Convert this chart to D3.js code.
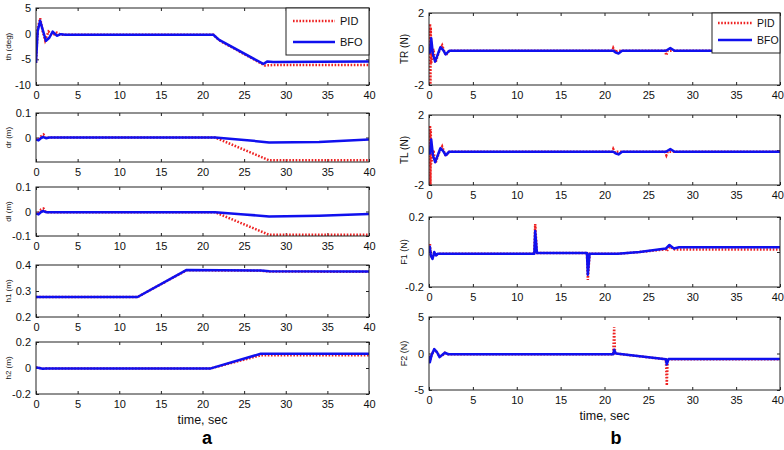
<!DOCTYPE html>
<html><head><meta charset="utf-8">
<script src="https://cdn.jsdelivr.net/npm/d3@7"></script>
<style>body{margin:0;background:#fff}svg{display:block}text{font-family:"Liberation Sans",Arial,sans-serif}</style>
</head><body>
<script>
// ---------- data ----------
const xTicks = [0,5,10,15,20,25,30,35,40];
const seriesNames = ["PID","BFO"];

// th (deg)
const thBT   = [0,0.2,0.5,0.8,1.2,1.6,2.0,2.5,3.0,3.5,21.3,22,27.3,27.8,28.5,40];
const thBFO  = [-5.7,0.5,2.5,0.8,-1.4,-0.8,0.4,-0.4,-0.1,-0.2,-0.2,-1.2,-5.9,-5.4,-5.5,-5.4];
const thPT   = [0,0.2,0.5,0.8,1.1,1.5,2.0,2.5,3.0,21.3,22,27.5,28.5,40];
const thPID  = [-5.7,1.0,3.0,0.5,-1.3,0.4,-0.3,0.2,-0.2,-0.2,-1.3,-6.2,-6.1,-6.1];

// dr (m)
const drBT   = [0,0.3,0.6,0.9,1.2,1.6,21.5,25,28,34,40];
const drBFO  = [-0.008,-0.012,-0.002,0.002,-0.003,0,0,-0.01,-0.02,-0.018,-0.008];
const drPT   = [0,0.3,0.6,0.9,1.2,1.6,21.5,28,40];
const drPID  = [-0.008,-0.01,0.005,0.012,-0.003,0,0,-0.093,-0.093];

// dl (m)
const dlBT   = [0,0.3,0.6,0.9,1.2,1.6,21.5,25,28,34,40];
const dlBFO  = [-0.008,-0.012,-0.002,0.002,-0.003,-0.003,-0.003,-0.012,-0.02,-0.017,-0.01];
const dlPT   = [0,0.3,0.6,0.9,1.2,1.6,21.5,28,40];
const dlPID  = [-0.008,-0.01,0.008,0.012,-0.003,-0.003,-0.003,-0.095,-0.095];

// h1 (m)
const h1BT   = [0,12.2,18.1,27,28,40];
const h1BFO  = [0.277,0.277,0.381,0.379,0.376,0.375];
const h1PT   = [0,12.2,18.1,27,28,40];
const h1PID  = [0.277,0.277,0.38,0.378,0.375,0.374];

// h2 (m)
const h2BT   = [0,0.4,0.8,1.2,21,27,40];
const h2BFO  = [0.003,0.0,-0.006,-0.003,-0.003,0.11,0.11];
const h2PT   = [0,0.4,0.8,1.2,21,27,40];
const h2PID  = [0.003,0.0,-0.006,-0.003,-0.003,0.098,0.098];

// TR (N)
const trBT   = [0,0.1,0.25,0.45,0.7,1.0,1.3,1.6,1.9,2.3,2.8,21.0,21.3,21.6,22.0,27.0,27.5,28.0,40];
const trBFO  = [0,-0.2,0.6,-0.3,-0.7,-0.3,0.1,-0.05,-0.3,-0.1,-0.1,-0.1,-0.2,-0.25,-0.1,-0.1,0.05,-0.1,-0.1];
const trPT   = [0,0.12,0.16,0.2,0.24,0.5,0.75,1.1,1.5,1.9,2.3,2.8,20.9,21.0,21.2,21.5,26.9,27.05,27.2,40];
const trPID  = [0,1.4,-2.5,1.2,-0.8,0,-0.75,-0.2,0.2,-0.35,-0.1,-0.1,-0.1,0.05,-0.15,-0.1,-0.1,-0.35,-0.1,-0.1];

// TL (N)
const tlBT   = [0,0.1,0.25,0.45,0.7,1.0,1.3,1.6,1.9,2.3,2.8,21.0,21.3,21.6,22.0,27.0,27.5,28.0,40];
const tlBFO  = [0,-0.2,0.6,-0.3,-0.7,-0.3,0.1,-0.05,-0.3,-0.1,-0.1,-0.1,-0.2,-0.25,-0.1,-0.1,0.05,-0.1,-0.1];
const tlPT   = [0,0.12,0.16,0.2,0.24,0.5,0.75,1.1,1.5,1.9,2.3,2.8,20.9,21.0,21.2,21.5,26.9,27.05,27.2,40];
const tlPID  = [0,1.4,-2.5,1.2,-0.8,0,-0.75,-0.2,0.2,-0.35,-0.1,-0.1,-0.1,0.05,-0.15,-0.1,-0.1,-0.3,-0.1,-0.1];

// F1 (N)
const f1BT   = [0,0.1,0.2,0.4,0.6,0.8,1.0,12.0,12.1,12.3,18.0,18.1,18.3,21.5,24,27.0,27.4,27.9,28.5,40];
const f1BFO  = [0,0.03,-0.02,-0.04,0,-0.02,-0.01,-0.01,0.12,-0.005,-0.005,-0.13,-0.01,-0.01,0.0,0.02,0.04,0.02,0.027,0.027];
const f1PT   = [0,0.1,0.2,0.4,0.6,0.8,1.0,12.0,12.1,12.3,18.0,18.1,18.3,21.5,24,27.0,27.1,27.4,28,40];
const f1PID  = [0,0.05,-0.02,-0.035,0,-0.02,-0.01,-0.01,0.16,-0.005,-0.005,-0.16,-0.01,-0.01,0.0,0.015,0.005,0.03,0.015,0.015];

// F2 (N)
const f2BT   = [0,0.1,0.3,0.6,0.9,1.2,1.5,1.8,2.2,21.0,21.1,21.3,27.0,27.1,27.3,40];
const f2BFO  = [-0.3,-1.2,-0.2,0.6,0.2,-0.5,-0.2,0.1,-0.1,-0.1,0.5,0.0,-0.8,-1.5,-0.75,-0.75];
const f2PT   = [0,0.1,0.3,0.6,0.9,1.2,1.5,1.8,2.2,21.0,21.1,21.2,27.0,27.1,27.2,40];
const f2PID  = [-0.3,-1.0,-0.2,0.5,0.2,-0.4,-0.3,0.1,-0.1,-0.1,3.6,0.0,-0.8,-4.4,-0.8,-0.8];

// ---------- drawing ----------
const W=784,H=450;
const svg=d3.select("body").append("svg").attr("width",W).attr("height",H);
const RED="#ee2222", BLUE="#1010ee";

const panels = [
 {id:"th", box:[36,369,8,85],  yd:[-10,5],   yt:[-10,-5,0,5], lab:"th (deg)", lx:8, lfs:8,  B:[thBT,thBFO], P:[thPT,thPID]},
 {id:"dr", box:[36,369,113,162], yd:[-0.1,0.1], yt:[0,0.1], lab:"dr (m)", lx:8, lfs:8, B:[drBT,drBFO], P:[drPT,drPID]},
 {id:"dl", box:[36,369,187,236], yd:[-0.1,0.1], yt:[-0.1,0,0.1], lab:"dl (m)", lx:8, lfs:8, B:[dlBT,dlBFO], P:[dlPT,dlPID]},
 {id:"h1", box:[36,369,265,317], yd:[0.2,0.4], yt:[0.2,0.3,0.4], lab:"h1 (m)", lx:8, lfs:8, B:[h1BT,h1BFO], P:[h1PT,h1PID]},
 {id:"h2", box:[36,369,342,394], yd:[-0.2,0.2], yt:[-0.2,0,0.2], lab:"h2 (m)", lx:8, lfs:8, B:[h2BT,h2BFO], P:[h2PT,h2PID], xlab:true},
 {id:"tr", box:[429,780,13,85], yd:[-2,2], yt:[-2,0,2], lab:"TR (N)", lx:404, lfs:10, B:[trBT,trBFO], P:[trPT,trPID], right:true},
 {id:"tl", box:[429,780,115,185], yd:[-2,2], yt:[-2,0,2], lab:"TL (N)", lx:404, lfs:10, B:[tlBT,tlBFO], P:[tlPT,tlPID], right:true},
 {id:"f1", box:[429,780,217,287], yd:[-0.2,0.2], yt:[-0.2,0,0.2], lab:"F1 (N)", lx:404, lfs:9, B:[f1BT,f1BFO], P:[f1PT,f1PID], right:true},
 {id:"f2", box:[429,780,317,390], yd:[-5,5], yt:[-5,0,5], lab:"F2 (N)", lx:404, lfs:9, B:[f2BT,f2BFO], P:[f2PT,f2PID], xlab:true, right:true}
];

const fmt = d => (Math.abs(d)<1e-9 ? "0" : String(+d.toFixed(2)));

panels.forEach(p=>{
  const [x0,x1,y0,y1]=p.box;
  const x=d3.scaleLinear().domain([0,40]).range([x0,x1]);
  const y=d3.scaleLinear().domain(p.yd).range([y1,y0]);
  const g=svg.append("g");
  g.append("clipPath").attr("id","c"+p.id).append("rect")
    .attr("x",x0).attr("y",y0).attr("width",x1-x0).attr("height",y1-y0);
  // axes
  const axB=g.append("g").attr("transform",`translate(0,${y1})`)
    .call(d3.axisBottom(x).tickValues(xTicks).tickSizeInner(-3).tickSizeOuter(0).tickPadding(6).tickFormat(d3.format("d")));
  const axT=g.append("g").attr("transform",`translate(0,${y0})`)
    .call(d3.axisTop(x).tickValues(xTicks).tickSizeInner(-3).tickSizeOuter(0).tickFormat(""));
  const axL=g.append("g").attr("transform",`translate(${x0},0)`)
    .call(d3.axisLeft(y).tickValues(p.yt).tickSizeInner(-3).tickSizeOuter(0).tickPadding(5).tickFormat(fmt));
  const axR=g.append("g").attr("transform",`translate(${x1},0)`)
    .call(d3.axisRight(y).tickValues(p.yt).tickSizeInner(-3).tickSizeOuter(0).tickFormat(""));
  [axB,axT,axL,axR].forEach(a=>{
    a.select(".domain").remove();
    a.selectAll("line").attr("stroke","#222");
    a.selectAll("text").attr("font-size",11).attr("fill","#111").attr("font-family","Liberation Sans, Arial, sans-serif");
  });
  if(p.right){
    // keep the last tick label inside the picture
    axB.selectAll(".tick text").filter(d=>d===40).attr("text-anchor","end").attr("dx",3.5);
  }
  // lines
  const line=d3.line().x(d=>x(d[0])).y(d=>y(d[1]));
  const pid=p.P[0].map((t,i)=>[t,p.P[1][i]]);
  const bfo=p.B[0].map((t,i)=>[t,p.B[1][i]]);
  const lg=g.append("g").attr("clip-path",`url(#c${p.id})`);
  lg.append("path").datum(pid).attr("d",line).attr("fill","none")
    .attr("stroke",RED).attr("stroke-width",2.5).attr("stroke-dasharray","1.6,1.6");
  lg.append("path").datum(bfo).attr("d",line).attr("fill","none")
    .attr("stroke",BLUE).attr("stroke-width",2.5).attr("stroke-linejoin","round");
  // box
  g.append("rect").attr("x",x0).attr("y",y0).attr("width",x1-x0).attr("height",y1-y0)
    .attr("fill","none").attr("stroke","#222").attr("stroke-width",1);
  // y label
  g.append("text").attr("transform",`translate(${p.lx},${(y0+y1)/2}) rotate(-90)`)
    .attr("text-anchor","middle").attr("dy","0.35em").attr("font-size",p.lfs).attr("fill","#111").text(p.lab);
  if(p.xlab){
    g.append("text").attr("x",(x0+x1)/2).attr("y",y1+30).attr("text-anchor","middle")
      .attr("font-size",12.5).attr("fill","#111").text("time, sec");
  }
});

// legends
function legend(bx0,bx1,by0,by1,lx0,lx1,tx,rows,fs){
  const g=svg.append("g");
  g.append("rect").attr("x",bx0).attr("y",by0).attr("width",bx1-bx0).attr("height",by1-by0)
    .attr("fill","#fff").attr("stroke","#222").attr("stroke-width",1);
  seriesNames.forEach((n,i)=>{
    const yy=rows[i];
    g.append("line").attr("x1",lx0).attr("x2",lx1).attr("y1",yy).attr("y2",yy)
      .attr("stroke",i===0?RED:BLUE).attr("stroke-width",2.5)
      .attr("stroke-dasharray",i===0?"1.6,1.6":null);
    g.append("text").attr("x",tx).attr("y",yy).attr("dy","0.35em").attr("font-size",fs)
      .attr("fill","#111").text(n);
  });
}
legend(286,369,8,55,293,335,340,[21,42],11);
legend(712,780,13,53,718,752,757,[23,40],10.5);

// panel letters
svg.append("text").attr("x",207).attr("y",444).attr("text-anchor","middle")
  .attr("font-family","Liberation Serif, serif").attr("font-weight","bold").attr("font-size",18).text("a");
svg.append("text").attr("x",616).attr("y",444).attr("text-anchor","middle")
  .attr("font-family","Liberation Serif, serif").attr("font-weight","bold").attr("font-size",18).text("b");
</script>
</body></html>
